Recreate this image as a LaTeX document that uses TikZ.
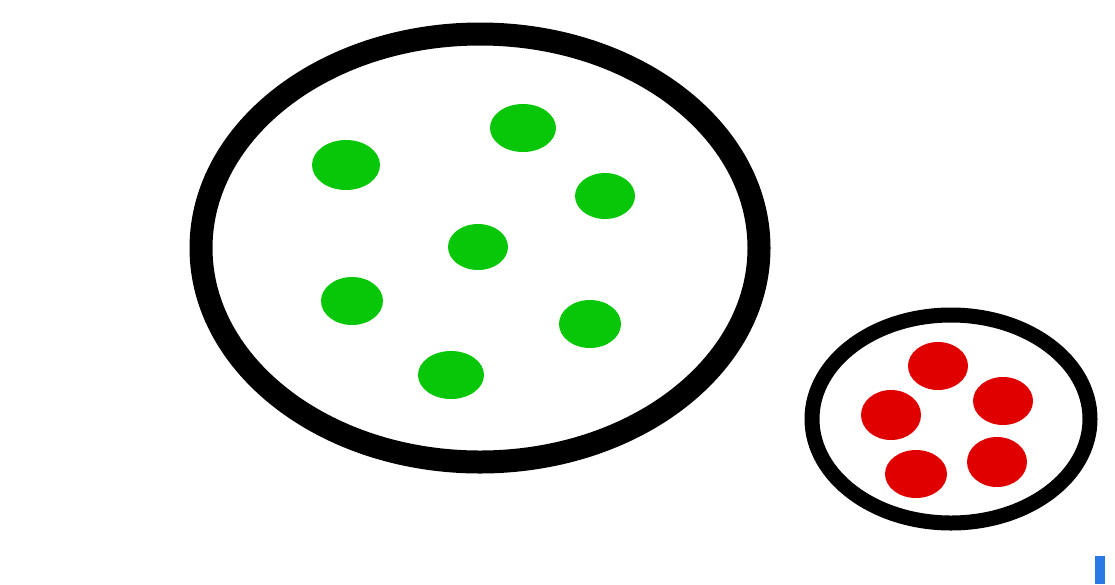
\documentclass[tikz,border=0pt]{standalone}
\definecolor{dotgreen}{RGB}{8,198,8}
\definecolor{dotred}{RGB}{224,0,0}
\definecolor{markblue}{RGB}{40,120,230}
\tikzset{
  ring/.style={draw=black, line width=#1},
  gdot/.style={fill=dotgreen},
  rdot/.style={fill=dotred}
}
\begin{document}
\begin{tikzpicture}[x=1pt,y=-1pt]
\useasboundingbox (0,0) rectangle (1115,584);
\fill[white] (0,0) rectangle (1115,584);
% large ring
\draw[ring=23pt] (480,248) ellipse [x radius=279, y radius=214];
% small ring
\draw[ring=15pt] (951,419) ellipse [x radius=139, y radius=104];
% green dots
\fill[gdot] (346,165) ellipse [x radius=34, y radius=25];
\fill[gdot] (523,128) ellipse [x radius=33, y radius=24];
\fill[gdot] (605,196) ellipse [x radius=30, y radius=23];
\fill[gdot] (478,247) ellipse [x radius=30, y radius=23];
\fill[gdot] (352,301) ellipse [x radius=31, y radius=24];
\fill[gdot] (590,324) ellipse [x radius=31, y radius=24];
\fill[gdot] (451,375) ellipse [x radius=33, y radius=24];
% red dots
\fill[rdot] (938,366) ellipse [x radius=30, y radius=24];
\fill[rdot] (1003,401) ellipse [x radius=30, y radius=24];
\fill[rdot] (891,415) ellipse [x radius=30, y radius=25];
\fill[rdot] (997,462) ellipse [x radius=30, y radius=25];
\fill[rdot] (916,474) ellipse [x radius=31, y radius=24];
% blue mark
\fill[markblue] (1095,556) rectangle (1105,584);
\end{tikzpicture}
\end{document}
